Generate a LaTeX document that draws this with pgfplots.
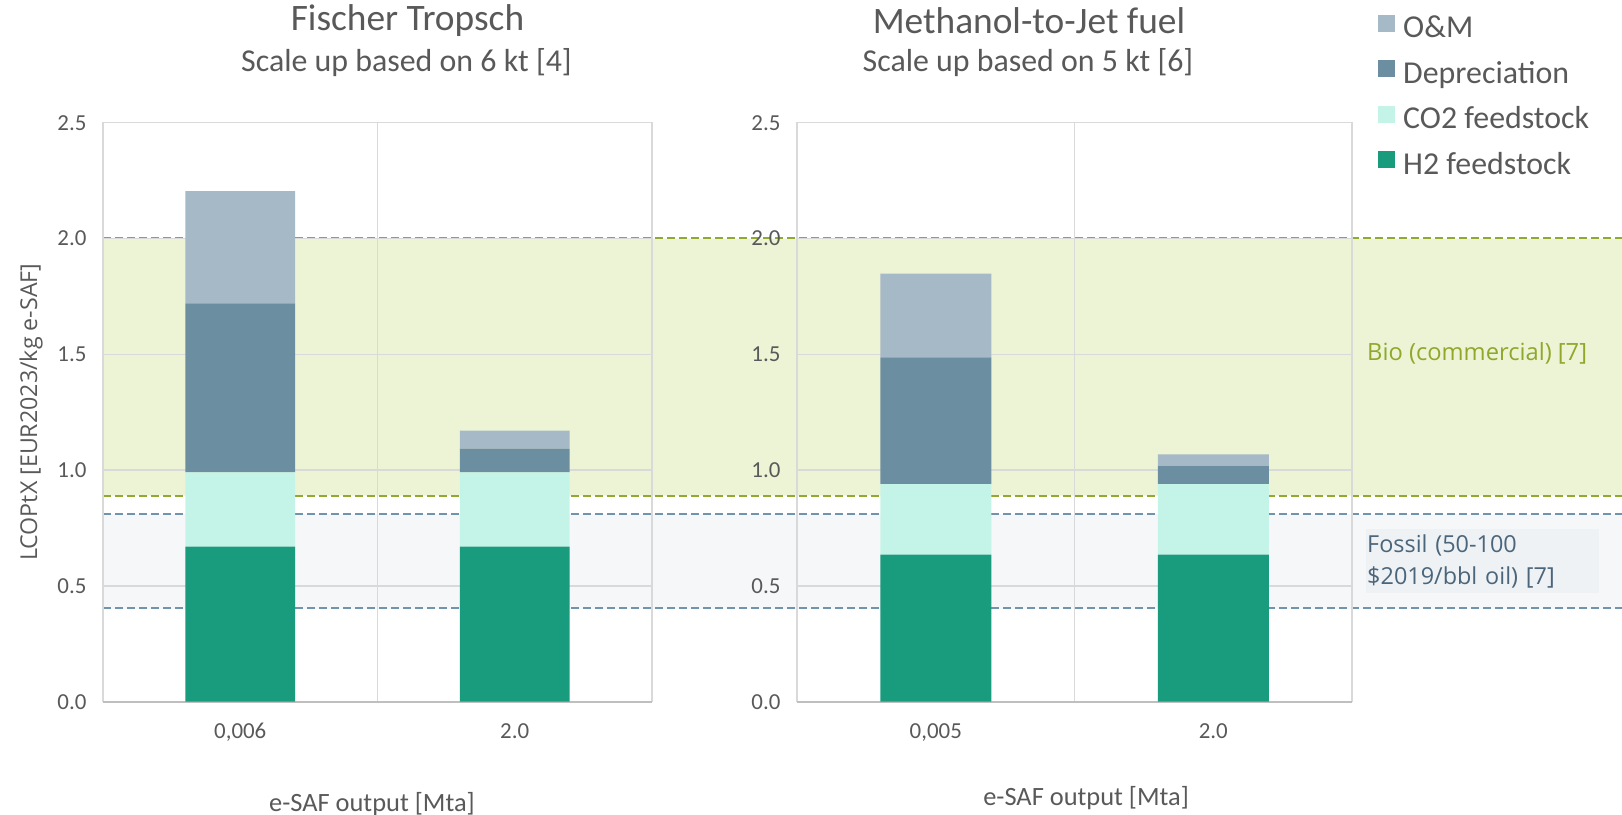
\documentclass[border=0pt]{standalone}
\usepackage{fontspec}
\setmainfont{Carlito}
\newfontfamily\segoe{Open Sans}
\usepackage{pgfplots}
\pgfplotsset{compat=1.18}
\definecolor{omc}{HTML}{A6B9C6}
\definecolor{depc}{HTML}{6C8EA1}
\definecolor{co2c}{HTML}{C4F4E8}
\definecolor{h2c}{HTML}{189C7D}
\definecolor{bandgreen}{HTML}{EDF4D5}
\definecolor{greendash}{HTML}{8FAA2E}
\definecolor{biotext}{HTML}{8FA82B}
\definecolor{bluedash}{HTML}{7094AE}
\definecolor{bandgray}{HTML}{F5F7F9}
\definecolor{fosstext}{HTML}{4B657A}
\definecolor{fossbox}{HTML}{EEF2F5}
\definecolor{gridgray}{HTML}{D9D9D9}
\definecolor{axisgray}{HTML}{BFBFBF}
\definecolor{textgray}{HTML}{595959}

\pgfplotstableread{
x  h2    co2   dep   om
0  0.670 0.320 0.730 0.485
1  0.670 0.320 0.103 0.077
}\ftdata
\pgfplotstableread{
x  h2    co2   dep   om
0  0.635 0.305 0.547 0.361
1  0.635 0.305 0.077 0.051
}\mtjdata

\pgfplotsset{barax/.style={
  scale only axis, width=549bp, height=579bp,
  ybar stacked, bar width=0.4,
  xmin=-0.5, xmax=1.5, ymin=0, ymax=2.5,
  xtick={0,1}, ytick={0,0.5,1,1.5,2,2.5},
  minor xtick={-0.5,0.5,1.5}, xminorgrids=true, ymajorgrids=true,
  major tick length=0pt, minor tick length=0pt,
  grid style={draw=gridgray, line width=1.5bp},
  minor grid style={draw=gridgray, line width=1.5bp},
  axis line style={draw=gridgray, line width=1.5bp},
  extra y ticks={0}, extra y tick labels={},
  extra y tick style={grid style={draw=axisgray, line width=2.2bp}},
  tick label style={font=\fontsize{23}{27}\selectfont, text=textgray},
  /pgf/number format/assume math mode=true,
  yticklabel style={/pgf/number format/fixed, /pgf/number format/fixed zerofill, /pgf/number format/precision=1},
  yticklabel style={xshift=-13bp},
  xticklabel style={yshift=-18bp},
  every axis x label/.style={anchor=center, font=\fontsize{26.5}{30}\selectfont, text=textgray},
  every axis plot/.append style={draw=none},
}}

\begin{document}
\begin{tikzpicture}
\useasboundingbox (0bp,-815bp) rectangle (1622bp,0bp);
% background bands
\begin{axis}[at={(103bp,-701.7bp)}, anchor=south west, scale only axis,
  width=1519bp, height=579bp, xmin=103, xmax=1622, ymin=0, ymax=2.5,
  hide axis, clip=false]
\addplot[fill=bandgreen, draw=none] coordinates {(103,0.89) (1622,0.89) (1622,2.0) (103,2.0) (103,0.89)};
\addplot[fill=bandgray, draw=none] coordinates {(103,0.40) (1622,0.40) (1622,0.81) (103,0.81) (103,0.40)};
\addplot[greendash, line width=2bp, dash pattern=on 8bp off 4bp] coordinates {(103,2.003) (1622,2.003)};
\addplot[greendash, line width=2bp, dash pattern=on 8bp off 4bp] coordinates {(103,0.889) (1622,0.889)};
\addplot[bluedash, line width=2bp, dash pattern=on 8bp off 4bp] coordinates {(103,0.810) (1622,0.810)};
\addplot[bluedash, line width=2bp, dash pattern=on 8bp off 4bp] coordinates {(103,0.404) (1622,0.404)};
\node[anchor=west, inner sep=0pt, text=biotext, font=\segoe\fontsize{23.8}{28}\selectfont] at (axis cs:1367,1.505) {Bio (commercial) [7]};
\node[anchor=north west, fill=fossbox, inner xsep=1bp, inner ysep=0pt, minimum width=233bp, minimum height=64bp,
  text=fosstext, font=\segoe\fontsize{23.5}{31.5}\selectfont, align=left, text width=231bp] at (axis cs:1366,0.745)
  {Fossil (50-100\\\$2019/bbl oil) [7]};
\end{axis}

% left panel
\begin{axis}[barax, at={(103bp,-701.7bp)}, anchor=south west,
  xticklabels={{0,006},{2.0}},
  xlabel={e-SAF output [Mta]},
  x label style={at={(axis description cs:0.49,-0.176)}},
  ylabel={LCOPtX [EUR2023/kg e-SAF]},
  every axis y label/.style={at={(axis description cs:-0.131,0.5)}, rotate=90, anchor=center,
    font=\segoe\fontsize{23.3}{28}\selectfont, text=textgray}]
\addplot[fill=h2c] table[x=x, y=h2] {\ftdata};
\addplot[fill=co2c] table[x=x, y=co2] {\ftdata};
\addplot[fill=depc] table[x=x, y=dep] {\ftdata};
\addplot[fill=omc] table[x=x, y=om] {\ftdata};
\end{axis}

% right panel
\begin{axis}[barax, at={(797bp,-701.7bp)}, anchor=south west, width=555bp,
  xticklabels={{0,005},{2.0}},
  xlabel={e-SAF output [Mta]},
  x label style={at={(axis description cs:0.521,-0.166)}},
  reverse legend,
  legend style={at={(axis description cs:1.046,1.0425)}, anchor=west, draw=none, fill=none,
    inner sep=0pt, row sep=15.5bp, column sep=3bp, font=\fontsize{32}{36}\selectfont, text=textgray,
    nodes={inner ysep=0pt, inner xsep=5.5bp, text height=21bp, text depth=7bp}},
  legend cell align=left,
  legend image code/.code={\fill[#1] (0bp,-1bp) rectangle (17bp,16bp);}]
\addplot[fill=h2c] table[x=x, y=h2] {\mtjdata};
\addplot[fill=co2c] table[x=x, y=co2] {\mtjdata};
\addplot[fill=depc] table[x=x, y=dep] {\mtjdata};
\addplot[fill=omc] table[x=x, y=om] {\mtjdata};
\legend{H2 feedstock, CO2 feedstock, Depreciation, O\&M}
\end{axis}

% titles
\node[text=textgray, font=\fontsize{37.5}{42}\selectfont] at (407.5bp,-20.7bp) {Fischer Tropsch};
\node[text=textgray, font=\fontsize{32}{36}\selectfont] at (406.5bp,-63bp) {Scale up based on 6 kt [4]};
\node[text=textgray, font=\fontsize{37.5}{42}\selectfont] at (1029bp,-20.7bp) {Methanol-to-Jet fuel};
\node[text=textgray, font=\fontsize{32}{36}\selectfont] at (1028bp,-63bp) {Scale up based on 5 kt [6]};
\end{tikzpicture}
\end{document}
